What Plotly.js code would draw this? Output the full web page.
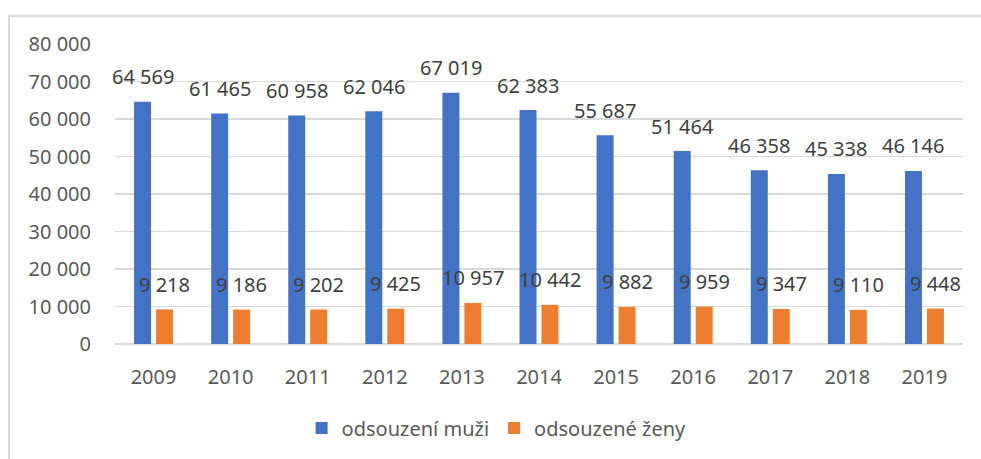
<!DOCTYPE html>
<html><head><meta charset="utf-8">
<script src="https://cdn.plot.ly/plotly-3.0.1.min.js"></script>
<style>
html,body{margin:0;padding:0;background:#fff;}
#frame{position:absolute;left:8px;top:15px;width:1000px;height:500px;border:2px solid #d9d9d9;box-sizing:border-box;}
#chart{position:absolute;left:0;top:0;width:981px;height:459px;}
</style></head>
<body>
<div id="frame"></div>
<div id="chart"></div>
<script>
var years = ['2009','2010','2011','2012','2013','2014','2015','2016','2017','2018','2019'];
var men = [64569, 61465, 60958, 62046, 67019, 62383, 55687, 51464, 46358, 45338, 46146];
var women = [9218, 9186, 9202, 9425, 10957, 10442, 9882, 9959, 9347, 9110, 9448];
var seriesNames = ['odsouzení muži', 'odsouzené ženy'];

function fmt(v){ return String(v).replace(/\B(?=(\d{3})+(?!\d))/g, ' '); }

var FONT = 'Noto Sans, Open Sans, sans-serif';
var traces = [
  {type:'bar', x:years, y:men, name:seriesNames[0], marker:{color:'#4472C4'}, hoverinfo:'none'},
  {type:'bar', x:years, y:women, name:seriesNames[1], marker:{color:'#ED7D31'}, hoverinfo:'none'}
];

var ann = [];
years.forEach(function(y, i){
  ann.push({x:i, y:men[i], xref:'x', yref:'y', text:fmt(men[i]), showarrow:false,
    xshift:-11, yshift:25, font:{family:FONT, size:20, color:'#404040'}});
  ann.push({x:i, y:women[i], xref:'x', yref:'y', text:fmt(women[i]), showarrow:false,
    xshift:11, yshift:25, font:{family:FONT, size:20, color:'#404040'}});
});

var layout = {
  width:981, height:459,
  margin:{l:115, r:18, t:44, b:113},
  paper_bgcolor:'rgba(0,0,0,0)', plot_bgcolor:'rgba(0,0,0,0)',
  separators:', ',
  barmode:'group', bargap:0.43, bargroupgap:0.227,
  font:{family:FONT, size:20, color:'#595959'},
  xaxis:{type:'category', range:[-0.5, years.length-0.5], showgrid:false, zeroline:false, showline:false, ticks:'',
    ticklabelstandoff:19, tickfont:{family:FONT, size:20, color:'#595959'}},
  yaxis:{range:[0,80000], dtick:10000, tickformat:',d', showgrid:true, gridcolor:'#d9d9d9', gridwidth:1.5,
    zeroline:true, zerolinecolor:'#d9d9d9', zerolinewidth:1.5, showline:false, ticks:'',
    ticklabelstandoff:23, tickfont:{family:FONT, size:20, color:'#595959'}},
  legend:{orientation:'h', x:0.45, xanchor:'center', y:-0.28, yanchor:'middle',
    font:{family:FONT, size:20, color:'#595959'}, itemwidth:30},
  annotations:ann,
  showlegend:true
};
Plotly.newPlot('chart', traces, layout, {staticPlot:true, displayModeBar:false});
</script>
</body></html>
